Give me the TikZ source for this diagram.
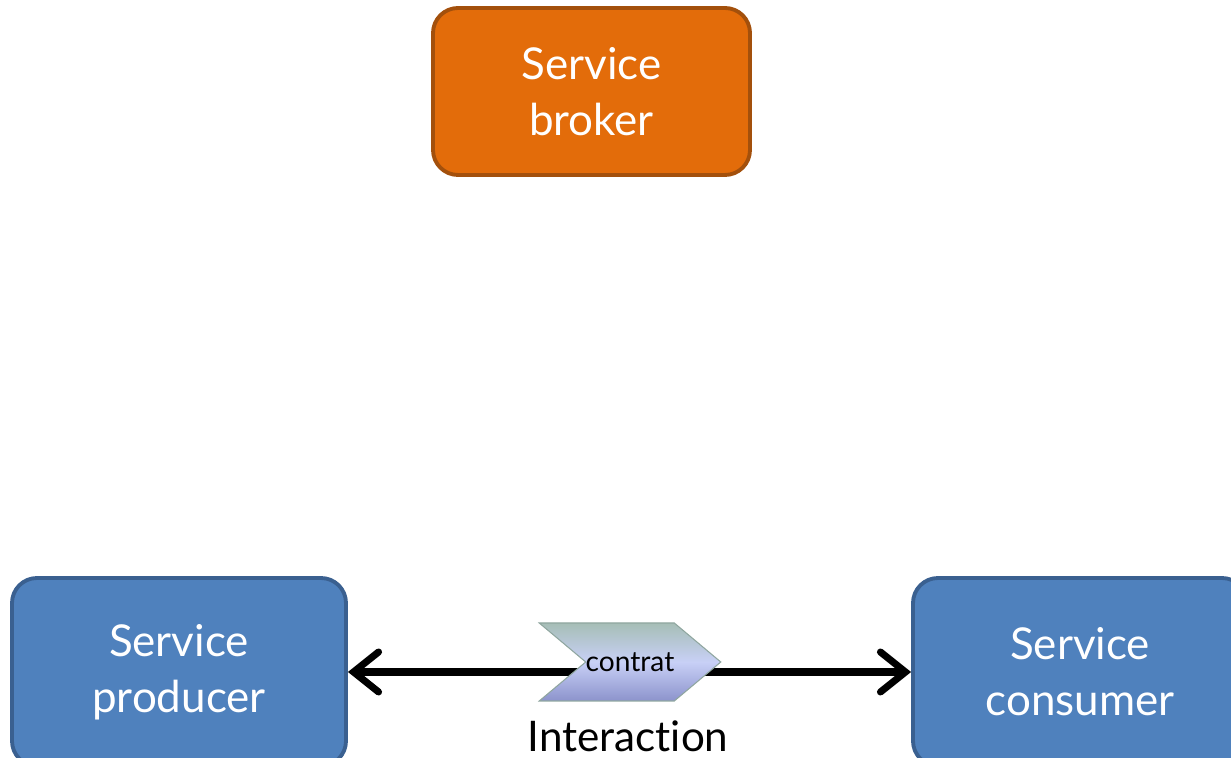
\documentclass[tikz,border=0pt]{standalone}
\usepackage{fontspec}
\setmainfont{Lato}[Ligatures=NoCommon]
\usetikzlibrary{shapes,shapes.symbols,arrows.meta}
\definecolor{brokerfill}{HTML}{E36C0A}
\definecolor{brokerline}{HTML}{A3500C}
\definecolor{servfill}{HTML}{4F81BD}
\definecolor{servline}{HTML}{3A6090}
\definecolor{sigtop}{HTML}{A6BEB6}
\definecolor{sigmid}{HTML}{C8D0F6}
\definecolor{sigbot}{HTML}{8C93CC}
\definecolor{sigline}{HTML}{8FA69F}
\tikzstyle{block} = [rectangle, draw=servline, fill=servfill, line width=2.2pt,
    rounded corners=0.5cm, text=white, align=center,
    font=\fontsize{25}{32}\selectfont, minimum width=6.68cm, minimum height=3.76cm]
\tikzstyle{broker} = [block, draw=brokerline, fill=brokerfill,
    minimum width=6.34cm, minimum height=3.34cm]
\tikzstyle{contract} = [signal, signal to=east, signal from=west,
    signal pointer angle=80, draw=sigline, line width=0.6pt,
    top color=sigtop, bottom color=sigbot, middle color=sigmid,
    minimum width=3.6cm, minimum height=1.56cm, inner sep=0pt,
    font=\fontsize{16}{18}\selectfont]
\tikzstyle{line} = [draw, line width=4pt,
    {Straight Barb[length=0.5cm, width=0.8cm, line cap=round]}-{Straight Barb[length=0.5cm, width=0.8cm, line cap=round]}]

\begin{document}
\begin{tikzpicture}
    \useasboundingbox (0,0) rectangle (24.62,15.16);
    \clip (0,0) rectangle (24.62,15.16);
    % Place nodes
    \node [broker] (broker) at (11.83,13.33) {Service\\broker};
    \node [block] (producer) at (3.58,1.72) {Service\\producer};
    \node [block] (consumer) at (21.6,1.72) {Service\\consumer};

    % Draw edges
    \path [line] (producer) -- (consumer);

    % contract sits on top of the interaction line
    \node [contract] (contrat) at (12.6,1.92) {contrat};
    \node [font=\fontsize{24}{28}\selectfont, inner sep=1pt] (interaction) at (12.56,0.44) {Interaction};
\end{tikzpicture}
\end{document}
